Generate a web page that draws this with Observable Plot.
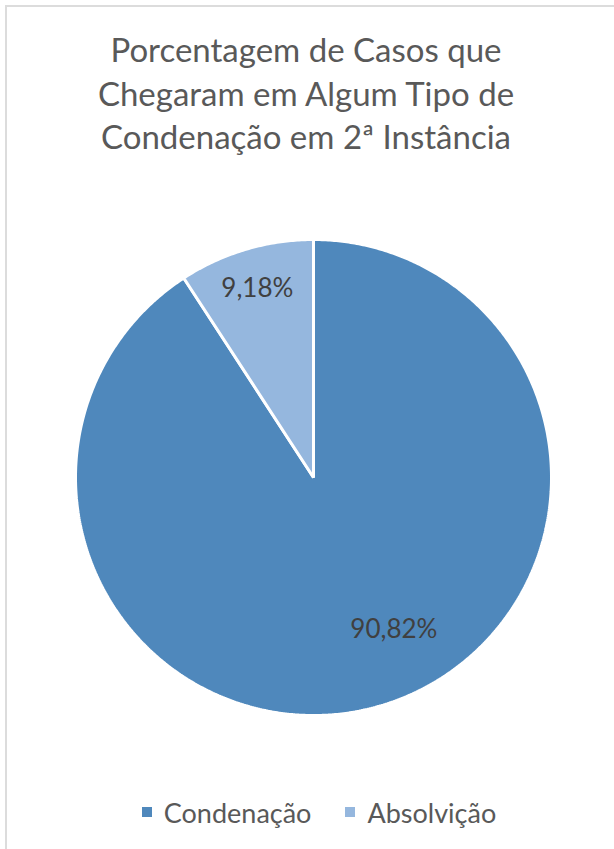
<!DOCTYPE html>
<html>
<head>
<meta charset="utf-8">
<script src="https://cdn.jsdelivr.net/npm/d3@7"></script>
<script src="https://cdn.jsdelivr.net/npm/@observablehq/plot@0.6"></script>
<style>
  html, body { margin: 0; padding: 0; background: #fff; }
  body { width: 614px; height: 849px; overflow: hidden; position: relative; font-family: Lato, "Open Sans", sans-serif; }
  #frame { position: absolute; left: 5px; top: 5px; width: 640px; height: 880px; border: 2px solid #DCDCDC; box-sizing: border-box; }
  #title { position: absolute; left: 0; top: 28px; width: 614px; text-align: center; color: #595959; font-size: 33px; line-height: 43.5px; padding-right: 2px; box-sizing: border-box; }
  #chart { position: absolute; left: 0; top: 0; }
  #legend { position: absolute; left: 0; top: 796px; width: 638px; height: 32px; display: flex; justify-content: center; align-items: center; color: #595959; font-size: 27px; }
  .item { display: flex; align-items: center; margin: 0 17px; }
  .sw { width: 10px; height: 10px; margin-right: 12px; }
</style>
</head>
<body>
<div id="frame"></div>
<div id="title">Porcentagem de Casos que<br>Chegaram em Algum Tipo de<br>Condenação em 2ª Instância</div>
<div id="chart"></div>
<div id="legend"></div>
<script>
const categories = ["Condenação", "Absolvição"];
const values = [90.82, 9.18];
const labels = ["90,82%", "9,18%"];
const colors = ["#4F88BC", "#95B7DE"];

// Build slice polygons (clockwise from 12 o'clock, as in the original)
const total = d3.sum(values);
const polys = [];
const labelPts = [];
const labelRadius = [0.72, 0.83];
const labelAngleShift = [-0.2, 0];
let start = 0;
values.forEach((v, i) => {
  const a0 = start, a1 = start + v / total * 2 * Math.PI;
  start = a1;
  polys.push({cat: categories[i], x: 0, y: 0, k: 0});
  const n = Math.max(2, Math.ceil((a1 - a0) / (Math.PI / 360)));
  for (let j = 0; j <= n; j++) {
    const a = a0 + (a1 - a0) * j / n;
    polys.push({cat: categories[i], x: Math.sin(a), y: Math.cos(a), k: j + 1});
  }
  const m = (a0 + a1) / 2 + labelAngleShift[i];
  labelPts.push({label: labels[i], x: labelRadius[i] * Math.sin(m), y: labelRadius[i] * Math.cos(m)});
});

const plot = Plot.plot({
  width: 614,
  height: 849,
  marginLeft: 75,
  marginRight: 63,
  marginTop: 239,
  marginBottom: 134,
  x: {domain: [-1, 1], axis: null},
  y: {domain: [-1, 1], axis: null},
  color: {domain: categories, range: colors},
  style: {fontFamily: "Lato, 'Open Sans', sans-serif", background: "transparent"},
  marks: [
    Plot.line(polys, {x: "x", y: "y", z: "cat", fill: "cat", stroke: "#fff", strokeWidth: 3, curve: "linear-closed", strokeLinejoin: "miter"}),
    Plot.text(labelPts, {x: "x", y: "y", text: "label", fill: "#404040", fontSize: 26, dy: 1})
  ]
});
document.getElementById("chart").appendChild(plot);

const legend = document.getElementById("legend");
categories.forEach((c, i) => {
  const it = document.createElement("div");
  it.className = "item";
  it.innerHTML = `<span class="sw" style="background:${colors[i]}"></span><span>${c}</span>`;
  legend.appendChild(it);
});
</script>
</body>
</html>
